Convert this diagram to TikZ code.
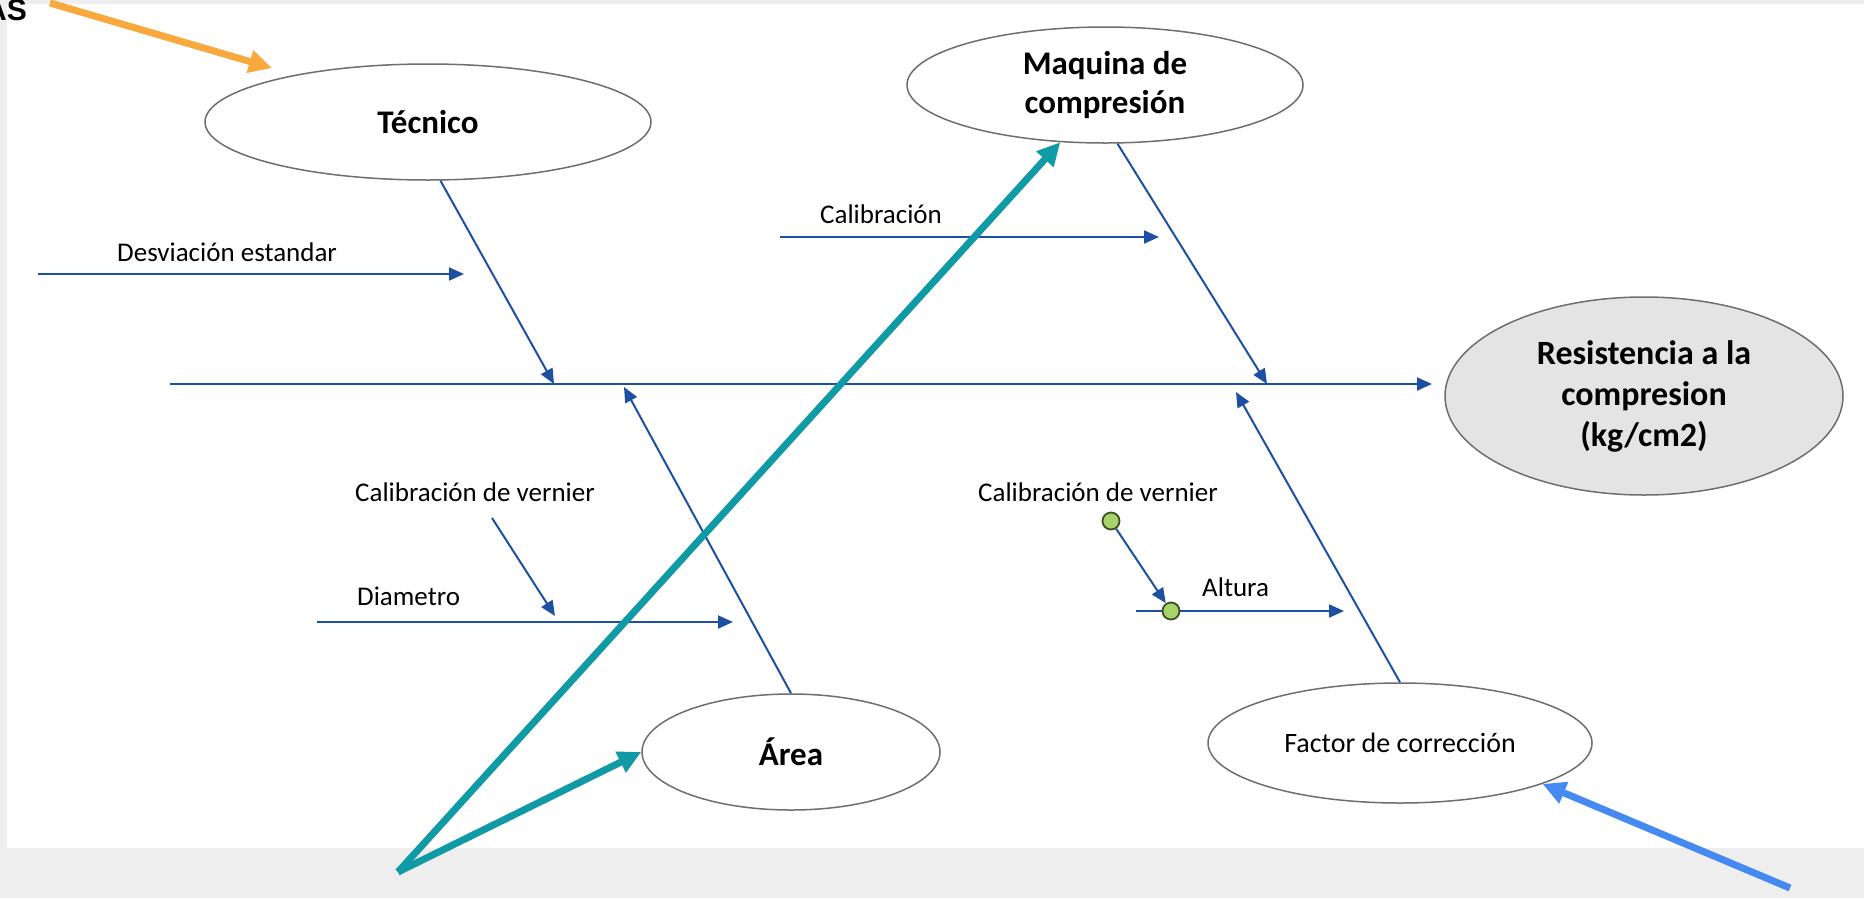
\documentclass[tikz,border=0pt]{standalone}
\usepackage{fontspec}
\setmainfont{Carlito}
\newfontfamily\arialfont{Liberation Sans}
\usetikzlibrary{shapes.geometric,arrows.meta}
\definecolor{bggray}{HTML}{EEEEEE}
\definecolor{edgecol}{HTML}{6E6E6E}
\definecolor{resfill}{HTML}{E4E4E4}
\definecolor{bonecol}{HTML}{1D50A2}
\definecolor{dotfill}{HTML}{A8D26A}
\definecolor{dotedge}{HTML}{3B5323}
\definecolor{tealcol}{HTML}{0F9AA6}
\definecolor{orangecol}{HTML}{F8A83C}
\definecolor{bluecol}{HTML}{4589F2}

\begin{document}
\begin{tikzpicture}[x=1pt, y=-1pt,
	cause/.style={ellipse, draw=edgecol, line width=1.5pt, inner sep=0pt, align=center,
		font=\fontsize{33}{39}\selectfont\bfseries},
	txt/.style={inner sep=0pt, anchor=west, font=\fontsize{27}{32}\selectfont},
	bone/.style={draw=bonecol, line width=2pt, -{Triangle[length=15pt,width=13pt]}},
	dot/.style={circle, fill=dotfill, draw=dotedge, line width=1.8pt, minimum size=17pt, inner sep=0pt},
	pointer/.style={line width=7pt, -{Triangle[length=23pt,width=22pt]}}]
	\useasboundingbox (0,0) rectangle (1864,898);
	\fill[bggray] (0,0) rectangle (1864,898);
	\fill[white] (7,4) rectangle (1864,848);

	% Nodes
	\node[anchor=base east, inner sep=0pt, font=\arialfont\bfseries\fontsize{30}{36}\selectfont] (as) at (27,20) {AS};
	\node[cause, minimum width=446pt, minimum height=116pt] (tec) at (428,122) {Técnico};
	\node[cause, minimum width=396pt, minimum height=116pt] (maq) at (1105,85) {Maquina de\\compresión};
	\node[cause, fill=resfill, minimum width=398pt, minimum height=198pt,
		font=\fontsize{34}{41}\selectfont\bfseries] (res) at (1644,396) {Resistencia a la\\compresion\\(kg/cm2)};
	\node[cause, minimum width=298pt, minimum height=116pt] (area) at (791,752) {Área};
	\node[cause, minimum width=384pt, minimum height=120pt,
		font=\fontsize{28}{34}\selectfont] (fac) at (1400,743) {Factor de corrección};

	\node[txt] (desv) at (117,252) {Desviación estandar};
	\node[txt] (calib) at (820,214) {Calibración};
	\node[txt] (vernL) at (355,492) {Calibración de vernier};
	\node[txt] (diam) at (357,596) {Diametro};
	\node[txt] (vernR) at (978,492) {Calibración de vernier};
	\node[txt] (alt) at (1202,587) {Altura};

	% Spine and bones
	\coordinate (s0) at (170,384);
	\coordinate (s1) at (1432,384);
	\coordinate (j1) at (554,384);
	\coordinate (j2) at (1267,384);
	\coordinate (j3) at (624,387);
	\coordinate (j4) at (1236,392);
	\coordinate (d0) at (38,274);
	\coordinate (d1) at (464,274);
	\coordinate (c0) at (780,237);
	\coordinate (c1) at (1159,237);
	\coordinate (v0) at (492,518);
	\coordinate (v1) at (555,616);
	\coordinate (m0) at (317,622);
	\coordinate (m1) at (733,622);
	\coordinate (h0) at (1136,611);
	\coordinate (h1) at (1344,611);

	% Arrows
	\draw[bone] (s0) -- (s1);
	\draw[bone] (tec.-78) -- (j1);
	\draw[bone] (maq.-78) -- (j2);
	\draw[bone] (area.north) -- (j3);
	\draw[bone] (fac.north) -- (j4);
	\draw[bone] (d0) -- (d1);
	\draw[bone] (c0) -- (c1);
	\draw[bone] (v0) -- (v1);
	\draw[bone] (m0) -- (m1);
	\draw[bone] (h0) -- (h1);

	% Dots
	\node[dot] (g1) at (1111,521) {};
	\node[dot] (g2) at (1171,611) {};
	\draw[bone] (g1) -- (g2);

	% Pointers
	\coordinate (o0) at (50,3);
	\coordinate (o1) at (272,68);
	\coordinate (p0) at (398,872);
	\coordinate (b0) at (1790,888);
	\draw[pointer, draw=orangecol, fill=orangecol] (o0) -- (o1);
	\draw[pointer, draw=tealcol, fill=tealcol] (p0) -- (maq.-128);
	\draw[pointer, draw=tealcol, fill=tealcol] (p0) -- (area.west);
	\draw[pointer, draw=bluecol, fill=bluecol] (b0) -- (fac.-16);
\end{tikzpicture}
\end{document}
